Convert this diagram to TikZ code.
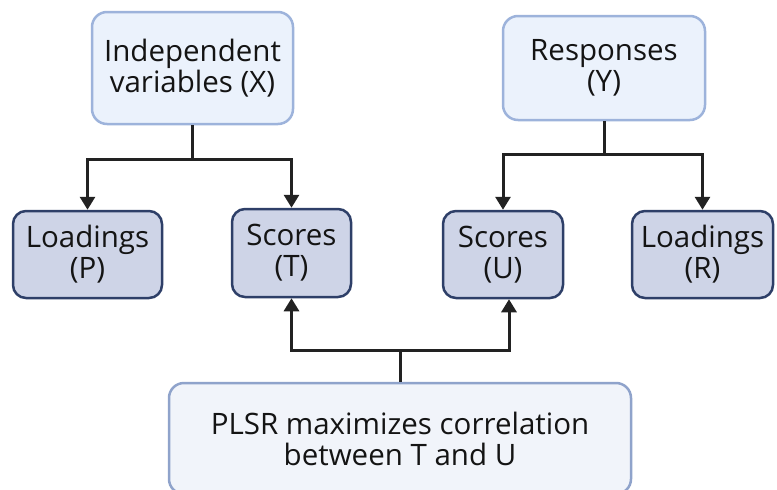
\documentclass[tikz,border=0pt]{standalone}
\usepackage{fontspec}
\setmainfont{Open Sans}
\usetikzlibrary{arrows.meta}
\definecolor{lfill}{HTML}{EBF2FC}
\definecolor{ldraw}{HTML}{9DB3DB}
\definecolor{dfill}{HTML}{CED4E7}
\definecolor{ddraw}{HTML}{2E3F68}
\definecolor{bfill}{HTML}{F1F4FA}
\definecolor{bdraw}{HTML}{8FA3CB}
\definecolor{lin}{HTML}{222222}
\tikzset{
  base/.style={rounded corners=15pt, line width=2.5pt, align=center, inner sep=0pt,
    font=\fontsize{29.5}{31}\selectfont, text=black!92},
  lightbox/.style={base, fill=lfill, draw=ldraw},
  darkbox/.style={base, fill=dfill, draw=ddraw, rounded corners=13pt},
  bottombox/.style={base, fill=bfill, draw=bdraw},
  conn/.style={line width=3pt, draw=lin},
  arr/.style={conn, -{Triangle[width=15pt,length=13pt]}}
}
\begin{document}
\begin{tikzpicture}[x=1pt,y=-1pt]
\useasboundingbox (0,0) rectangle (777,490);
\node[lightbox, minimum width=201pt, minimum height=112pt] (X) at (192.5,68) {Independent\\variables (X)};
\node[lightbox, minimum width=202pt, minimum height=104pt] (Y) at (604,68) {Responses\\(Y)};
\node[darkbox, minimum width=149pt, minimum height=87pt] (P) at (87.5,254.5) {Loadings\\(P)};
\node[darkbox, minimum width=119pt, minimum height=88pt] (T) at (291.5,253) {Scores\\(T)};
\node[darkbox, minimum width=120pt, minimum height=87pt] (U) at (503,254.5) {Scores\\(U)};
\node[darkbox, minimum width=141pt, minimum height=87pt] (R) at (702.5,254.5) {Loadings\\(R)};
\node[bottombox, minimum width=462pt, minimum height=111pt] (B) at (400,438.5) {PLSR maximizes correlation\\between T and U};
\coordinate (jx) at (X.south |- 0,159);
\coordinate (jy) at (Y.south |- 0,154);
\coordinate (jb) at (B.north |- 0,350);
\draw[conn] (X.south) -- (jx);
\draw[arr] (jx) -| (P.north);
\draw[arr] (jx) -| (T.north);
\draw[conn] (Y.south) -- (jy);
\draw[arr] (jy) -| (U.north);
\draw[arr] (jy) -| (R.north);
\draw[conn] (B.north) -- (jb);
\draw[arr] (jb) -| (T.south);
\draw[arr] (jb) -| ([xshift=6pt]U.south);
\end{tikzpicture}
\end{document}
